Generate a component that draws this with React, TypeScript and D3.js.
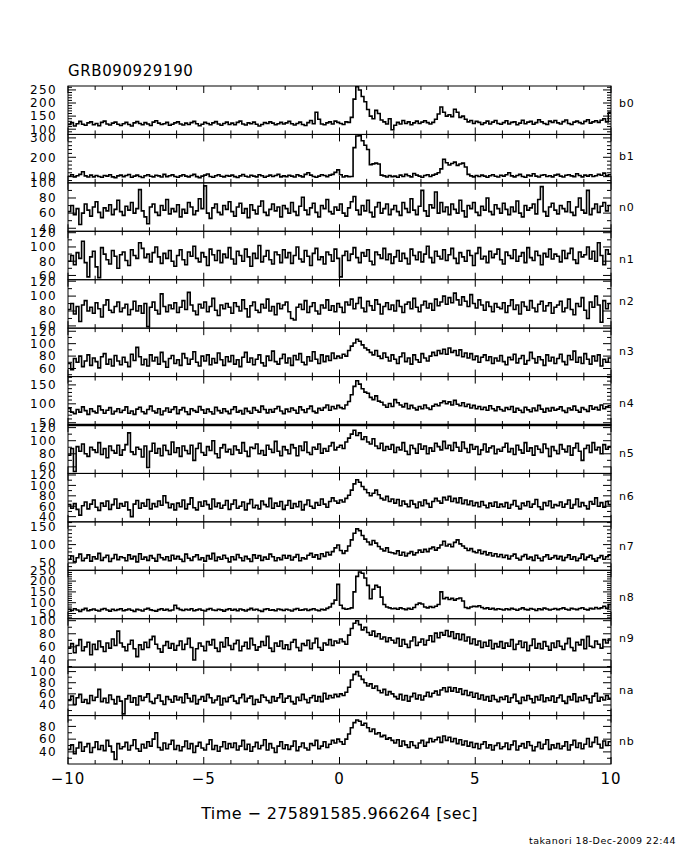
import React from 'react';
import * as d3 from 'd3';

// ---------- data ----------
const title = 'GRB090929190';
const xAxisTitle = 'Time \u2212 275891585.966264 [sec]';
const footer = 'takanori 18-Dec-2009 22:44';
const detectors = ['b0', 'b1', 'n0', 'n1', 'n2', 'n3', 'n4', 'n5', 'n6', 'n7', 'n8', 'n9', 'na', 'nb'];
const timeStart = -10;
const binWidth = 0.1;
const xTicks = [-10, -5, 0, 5, 10];

const yRanges = [
  [80, 265, 50, 10],
  [68, 318, 100, 20],
  [36, 100, 20, 10],
  [54, 122, 20, 10],
  [57, 122, 20, 10],
  [47, 125, 20, 10],
  [44, 172, 50, 10],
  [50, 124, 20, 10],
  [30, 123, 20, 10],
  [30, 162, 50, 10],
  [26, 250, 50, 10],
  [29, 103, 20, 10],
  [21, 108, 20, 10],
  [21, 97, 20, 10],
];

const b0 = [
  118,125,112,121,130,119,115,124,128,117,122,113,126,131,120,116,123,127,119,114,
  121,126,118,112,124,129,122,117,125,120,114,127,132,123,118,121,126,115,119,124,
  128,120,116,123,118,125,130,121,113,119,126,122,117,124,129,120,115,122,127,118,
  123,117,126,131,120,116,124,121,127,119,112,118,125,122,128,123,117,121,126,120,
  124,130,121,116,122,127,118,114,125,133,121,165,138,120,117,124,128,120,131,126,
  122,118,128,126,145,215,262,250,225,205,175,150,140,172,160,135,128,120,140,98,
  115,126,120,133,122,128,117,124,131,122,127,132,125,120,126,138,158,185,165,150,
  155,148,176,165,145,150,138,128,133,122,130,126,118,124,131,120,127,133,122,119,
  125,132,120,126,128,117,123,134,121,127,130,119,125,136,128,122,118,131,126,133,
  124,120,129,135,122,118,127,131,125,121,130,136,123,128,132,126,134,140,128,165,
];
const b1 = [
  102,110,98,105,112,125,104,98,108,99,106,101,97,106,103,110,99,95,104,108,
  100,106,111,97,103,108,101,96,105,110,102,99,107,104,98,112,100,105,109,101,
  97,104,110,103,99,106,112,100,95,103,108,114,101,97,105,110,102,99,106,103,
  108,100,96,104,111,102,98,107,103,99,110,105,97,102,108,101,106,112,99,104,
  100,107,103,98,110,104,99,112,120,108,101,97,103,110,106,100,108,112,122,135,
  110,98,104,100,101,250,310,312,285,262,240,162,166,170,165,108,104,98,106,100,
  103,97,108,101,112,105,99,116,108,103,97,106,110,101,108,113,120,140,190,172,
  160,168,175,158,165,170,150,112,104,99,106,101,108,103,97,105,110,102,98,107,
  103,110,120,104,99,106,112,101,97,108,104,115,103,98,107,110,101,105,99,108,
  112,103,98,107,110,104,100,115,106,99,108,103,110,101,105,112,107,118,104,110,
];
const n0 = [
  62,70,58,66,45,60,72,64,56,68,75,61,54,67,63,71,58,65,77,62,
  57,69,64,74,60,66,91,63,55,46,68,72,61,57,70,64,78,59,66,62,
  71,55,65,60,74,68,58,63,79,66,96,60,53,67,72,61,58,70,65,75,
  62,56,68,73,60,66,54,71,64,59,69,76,61,57,65,72,63,68,55,70,
  66,60,74,62,57,69,81,64,58,67,73,61,55,70,66,78,62,59,68,64,
  72,60,56,67,75,82,64,58,70,63,77,61,55,68,74,60,66,72,58,65,
  70,62,57,74,66,61,79,64,58,69,90,63,56,71,67,88,60,74,62,68,
  58,72,65,60,77,63,55,70,66,74,61,57,69,64,80,62,58,71,66,60,
  73,65,58,68,62,76,60,55,70,64,67,72,59,78,95,62,56,68,73,64,
  59,70,66,62,75,61,57,68,80,64,60,90,58,66,72,61,69,74,63,70,
];
const n1 = [
  80,88,75,92,84,108,78,58,86,94,72,57,99,90,82,76,95,87,70,89,
  93,81,74,96,88,84,106,98,85,90,79,92,100,86,77,91,84,95,80,73,
  88,96,82,75,93,87,101,84,79,92,86,74,97,89,81,95,78,90,85,99,
  83,76,94,88,80,97,86,73,91,84,102,79,87,95,82,76,93,89,78,96,
  85,92,77,88,100,83,79,95,87,74,91,98,82,86,76,93,89,80,97,84,
  58,88,94,81,90,99,85,78,92,87,96,80,75,93,89,84,98,82,90,77,
  86,95,80,91,84,76,97,88,82,93,79,90,101,85,78,94,87,83,96,81,
  89,98,84,77,92,86,80,95,88,74,91,99,83,87,78,94,85,90,97,82,
  76,93,88,84,96,80,87,92,78,99,85,81,94,88,75,91,86,97,83,90,
  87,79,95,84,91,98,82,77,93,86,89,100,83,94,80,106,88,75,96,90,
];
const n2 = [
  82,90,76,86,66,88,94,80,85,77,91,83,72,88,95,81,78,86,92,79,
  84,89,75,82,93,80,87,77,90,59,85,92,81,76,103,86,79,88,83,91,
  78,85,94,82,105,88,80,75,89,84,92,79,86,97,81,74,88,83,90,85,
  77,91,86,80,95,83,72,87,92,81,78,89,84,96,80,86,75,90,83,88,
  92,79,70,68,85,89,82,94,78,86,91,80,76,88,84,95,81,87,79,90,
  85,78,92,88,96,83,90,98,84,79,93,87,81,95,89,76,86,91,82,88,
  80,94,86,78,89,92,83,97,85,79,88,93,84,90,81,96,87,92,100,89,
  98,91,104,95,88,99,93,86,102,90,84,95,88,81,92,86,79,90,85,83,
  91,78,87,95,82,88,76,92,86,81,94,84,79,89,93,80,87,91,77,85,
  88,93,79,84,96,82,75,90,86,98,81,70,92,85,100,88,65,94,83,90,
];
const n3 = [
  68,58,76,70,80,63,72,82,65,77,71,61,79,84,67,75,64,81,72,66,
  78,70,63,83,73,94,79,66,75,64,82,72,78,67,86,71,62,76,81,68,
  74,65,84,77,67,75,87,70,64,80,72,82,66,76,69,85,74,65,79,71,
  81,67,74,63,78,86,70,77,66,75,82,69,64,80,73,88,71,67,76,83,
  69,77,65,81,74,84,70,66,79,72,87,75,68,82,71,80,73,85,76,80,
  77,83,80,89,96,101,107,104,98,93,90,86,82,89,80,76,85,78,72,82,
  75,68,79,85,71,77,67,82,74,70,84,77,72,80,86,81,89,84,91,83,
  93,86,89,81,90,79,85,77,84,74,80,70,78,82,73,79,68,77,72,81,
  71,66,78,74,83,69,76,81,67,73,86,76,69,79,74,65,82,72,78,68,
  76,83,71,66,81,74,88,70,78,68,84,75,67,80,72,82,64,75,70,77,
];
const n4 = [
  88,78,74,85,78,92,82,72,87,80,76,94,84,75,83,90,73,80,87,77,
  83,92,75,81,72,86,91,79,74,85,94,81,76,87,71,81,89,78,85,92,
  74,84,90,79,72,87,82,78,93,84,75,86,79,73,91,82,76,87,80,74,
  85,92,78,82,73,88,80,75,90,83,78,94,85,76,85,78,87,93,81,74,
  86,79,89,83,75,92,84,77,87,94,80,76,88,83,90,97,83,93,87,96,
  90,87,97,106,124,146,161,152,140,131,128,117,111,121,107,104,97,91,101,93,
  111,103,97,92,101,87,96,89,84,93,87,97,89,85,94,99,95,103,107,100,
  105,97,109,99,95,103,93,99,89,96,87,93,85,91,83,95,87,82,92,85,
  81,90,85,93,78,88,83,77,91,84,79,89,82,96,86,78,88,81,90,83,
  86,92,82,77,89,84,94,83,78,90,85,80,95,86,91,84,97,87,92,95,
];
const n5 = [
  78,88,53,91,84,95,80,76,90,86,82,97,79,88,74,92,85,81,93,78,
  86,94,112,83,79,90,87,75,92,59,84,96,81,88,77,93,85,79,98,82,
  89,76,92,85,80,93,70,88,96,82,78,91,85,100,80,74,89,94,83,87,
  79,92,86,81,97,84,76,90,88,95,80,85,78,93,87,82,99,84,77,91,
  86,80,94,89,77,92,85,98,82,79,90,87,95,81,88,84,92,97,86,90,
  93,88,98,104,110,116,108,112,102,106,98,95,103,92,88,96,85,91,87,94,
  82,90,86,97,84,79,93,88,81,95,87,92,80,89,84,96,91,86,99,88,
  93,85,97,90,84,98,88,82,94,87,91,79,86,95,83,89,92,80,87,84,
  90,96,83,88,79,93,86,81,97,84,89,78,92,87,82,95,88,76,91,85,
  80,94,87,83,92,78,89,96,84,70,88,93,82,97,86,90,80,94,87,91,
];
const n6 = [
  63,56,65,54,43,61,68,55,64,72,58,52,66,60,70,54,63,74,56,65,
  60,68,53,40,64,71,56,66,60,73,55,65,59,70,62,80,67,57,64,53,
  66,59,72,55,64,76,57,53,68,60,70,63,55,74,59,66,56,62,71,54,
  64,72,56,60,68,53,65,73,57,62,55,70,63,59,75,56,66,60,69,54,
  62,71,56,65,59,69,53,63,72,60,56,67,62,74,64,58,69,76,70,66,
  72,68,75,81,91,103,111,106,98,92,86,80,85,91,82,75,72,79,69,74,
  66,73,61,70,64,59,71,64,57,68,61,72,65,58,69,75,70,66,77,72,
  79,69,75,67,76,65,72,63,70,61,67,59,69,62,57,66,60,68,58,64,
  59,67,56,63,71,60,55,66,61,69,58,64,73,59,54,67,61,70,57,63,
  61,68,58,64,72,56,63,74,59,67,61,55,69,64,76,60,67,58,69,63,
];
const n7 = [
  60,69,53,64,74,56,63,72,55,67,61,76,57,65,71,54,62,73,59,67,
  64,56,72,61,68,53,75,60,66,57,70,63,55,73,64,59,67,56,71,61,
  68,60,54,74,63,57,67,72,59,64,55,70,61,76,56,66,60,71,63,53,
  67,59,73,64,56,68,61,54,72,63,70,57,66,60,74,67,56,64,59,71,
  63,70,58,66,73,56,64,61,71,76,66,72,61,75,68,79,72,81,91,99,
  84,76,83,96,113,131,143,138,125,115,107,100,111,104,95,88,83,91,79,78,
  75,83,71,79,69,76,81,72,78,85,79,87,81,89,93,85,91,99,109,96,
  101,94,106,113,102,96,90,84,89,81,78,85,75,81,72,78,69,75,67,73,
  65,71,61,69,74,63,58,68,73,61,66,57,71,63,56,67,72,60,64,70,
  61,68,57,65,72,60,67,56,63,74,59,66,71,61,55,64,70,60,67,72,
];
const n8 = [
  70,64,72,66,60,68,74,63,67,71,65,62,69,73,66,61,70,64,68,72,
  63,67,71,65,60,69,66,62,70,74,67,64,61,68,72,65,69,63,66,88,
  74,68,64,70,66,72,63,67,71,65,62,69,73,66,64,70,67,61,68,72,
  65,69,63,71,67,62,68,74,66,70,64,60,69,72,65,67,63,71,68,64,
  70,66,62,69,73,65,67,71,64,68,72,66,63,70,67,74,80,96,112,185,
  88,74,70,72,76,150,222,242,236,214,180,118,162,180,172,126,92,80,76,72,
  74,70,76,72,68,74,70,78,92,98,94,80,76,82,78,84,92,150,118,124,
  115,120,112,118,122,108,78,74,80,84,82,86,78,72,76,70,74,68,72,70,
  66,72,68,74,70,65,71,76,69,67,73,70,64,72,68,75,71,66,70,73,
  68,72,76,70,66,74,71,68,73,77,70,67,74,71,78,72,76,84,74,92,
];
const n9 = [
  58,65,51,62,71,54,60,67,48,64,56,69,60,53,66,58,72,62,84,66,
  60,54,64,70,57,45,63,56,67,59,71,76,64,57,52,62,68,58,65,55,
  62,69,56,64,73,59,40,57,66,61,54,68,63,71,58,53,67,60,74,62,
  56,65,70,54,61,67,57,73,63,55,60,68,62,76,58,53,66,61,69,57,
  63,56,67,71,59,54,65,62,70,57,66,73,59,55,66,63,71,62,69,66,
  72,68,64,78,88,96,100,94,86,90,82,78,84,76,80,72,75,68,74,70,
  66,73,61,71,64,59,69,75,62,67,72,63,70,77,68,81,74,82,78,85,
  76,83,73,80,71,79,69,75,65,72,63,69,59,67,61,70,57,65,60,68,
  58,66,61,71,56,64,69,59,67,54,62,72,58,65,57,68,61,55,66,59,
  69,61,56,65,73,59,54,67,63,71,57,76,61,59,69,64,58,71,66,72,
];
const na = [
  48,56,41,53,59,45,50,43,57,48,54,68,46,52,44,58,50,42,55,47,
  24,51,57,45,53,40,56,48,54,60,46,43,52,58,47,41,55,50,45,56,
  49,54,44,60,52,46,57,42,50,55,47,59,53,44,49,56,40,52,46,54,
  57,47,43,53,59,46,52,56,41,50,45,58,54,48,44,55,47,53,60,45,
  52,56,46,42,54,48,59,50,44,53,57,47,55,46,61,51,57,53,59,55,
  60,57,63,72,85,95,100,92,86,80,74,78,70,74,66,62,68,58,64,60,
  55,51,59,49,57,47,55,61,51,58,49,56,63,55,61,65,58,67,71,64,
  72,65,71,63,69,59,66,57,63,54,61,51,58,49,55,47,57,50,46,54,
  50,56,45,53,59,47,43,54,48,57,51,44,55,49,58,46,53,48,56,45,
  53,58,47,43,55,49,60,46,54,48,57,51,44,56,61,47,54,49,57,52,
];
const nb = [
  44,51,37,46,55,41,48,53,39,47,56,44,50,42,58,49,40,28,53,45,
  48,55,43,50,59,45,41,52,46,56,49,60,70,47,43,54,45,52,58,44,
  50,42,48,57,45,53,39,49,55,46,43,52,59,44,50,41,48,56,45,53,
  47,54,43,49,58,44,52,41,48,55,45,50,59,43,53,46,39,49,56,45,
  51,44,49,57,42,48,54,46,43,53,50,58,45,49,56,47,52,58,54,60,
  56,52,60,68,78,86,90,88,82,85,78,72,76,68,70,64,66,60,62,58,
  54,59,49,57,51,47,56,50,46,54,58,49,55,61,56,59,63,55,65,58,
  63,56,61,53,59,51,57,49,55,47,53,45,52,56,46,51,43,50,54,45,
  48,54,44,51,57,43,49,53,46,56,50,42,48,55,45,52,59,44,51,46,
  53,45,49,56,43,51,58,47,54,45,52,61,48,55,63,52,46,57,50,56,
];
const seriesCounts = [b0, b1, n0, n1, n2, n3, n4, n5, n6, n7, n8, n9, na, nb];

// ---------- layout ----------
const W = 680;
const H = 850;
const LEFT = 68;
const RIGHT = 611;
const TOP = 86;
const BOTTOM = 764;
const labelOffsets = [17, 22, 24, 28, 21, 23, 26, 28, 23, 24, 27, 19, 23, 25];
const FONT = 'DejaVu Sans, Verdana, sans-serif';

export default function App() {
  const x = d3.scaleLinear().domain([-10, 10]).range([LEFT, RIGHT]);
  const ph = (BOTTOM - TOP) / detectors.length;
  const secTicks = d3.range(-10, 10.001, 1);

  return (
    <svg
      width={W}
      height={H}
      viewBox={`0 0 ${W} ${H}`}
      style={{ position: 'absolute', left: 0, top: 0, background: '#fff' }}
      fontFamily={FONT}
    >
      <rect x={0} y={0} width={W} height={H} fill="#fff" />
      <defs>
        {detectors.map((d, i) => (
          <clipPath id={`clip-${d}`} key={d}>
            <rect x={LEFT} y={TOP + i * ph} width={RIGHT - LEFT} height={ph} />
          </clipPath>
        ))}
      </defs>
      <text x={68} y={76} fontSize={15} letterSpacing={0.6} fill="#000">
        {title}
      </text>
      {detectors.map((name, i) => {
        const top = TOP + i * ph;
        const bot = top + ph;
        const [ymin, ymax, major, minor] = yRanges[i];
        const y = d3.scaleLinear().domain([ymin, ymax]).range([bot, top]);
        const counts = seriesCounts[i];
        const pts = [...counts, counts[counts.length - 1]];
        const line = d3
          .line<number>()
          .x((_, j) => x(timeStart + j * binWidth))
          .y((d) => y(d))
          .curve(d3.curveStepAfter);
        const minorVals = d3
          .range(Math.ceil(ymin / minor) * minor, ymax + 0.001, minor)
          .filter((v) => v > ymin && v < ymax);
        const majorVals = d3
          .range(Math.ceil(ymin / major) * major, ymax + 0.001, major)
          .filter((v) => v >= ymin && v <= ymax);
        return (
          <g key={name}>
            <path
              d={line(pts) || ''}
              fill="none"
              stroke="#000"
              strokeWidth={1.6}
              clipPath={`url(#clip-${name})`}
            />
            <rect
              x={LEFT}
              y={top}
              width={RIGHT - LEFT}
              height={ph}
              fill="none"
              stroke="#000"
              strokeWidth={1}
            />
            {secTicks.map((t) => {
              const len = t % 5 === 0 ? 7 : 4;
              const xx = x(t);
              return (
                <g key={`xt${t}`}>
                  <line x1={xx} x2={xx} y1={top} y2={top + len} stroke="#000" strokeWidth={1} />
                  <line x1={xx} x2={xx} y1={bot} y2={bot - len} stroke="#000" strokeWidth={1} />
                </g>
              );
            })}
            {minorVals.map((v) => {
              const isMajor = Math.abs(v / major - Math.round(v / major)) < 1e-6;
              const len = isMajor ? 8 : 4;
              const yy = y(v);
              return (
                <g key={`yt${v}`}>
                  <line x1={LEFT} x2={LEFT + len} y1={yy} y2={yy} stroke="#000" strokeWidth={1} />
                  <line x1={RIGHT} x2={RIGHT - len} y1={yy} y2={yy} stroke="#000" strokeWidth={1} />
                </g>
              );
            })}
            {majorVals.map((v) => (
              <text
                key={`yl${v}`}
                x={57}
                y={y(v)}
                dy="0.36em"
                textAnchor="end"
                fontSize={12}
                letterSpacing={1.4}
                fill="#000"
              >
                {v}
              </text>
            ))}
            <text x={619} y={top + labelOffsets[i]} dy="0.36em" fontSize={11} letterSpacing={0.8} fill="#000">
              {name}
            </text>
          </g>
        );
      })}
      <line x1={LEFT} x2={RIGHT} y1={TOP + 7 * ph} y2={TOP + 7 * ph} stroke="#000" strokeWidth={2.5} />
      {xTicks.map((t) => (
        <text key={`xl${t}`} x={x(t)} y={779} dy="0.36em" textAnchor="middle" fontSize={15} letterSpacing={1} fill="#000">
          {t < 0 ? `\u2212${Math.abs(t)}` : `${t}`}
        </text>
      ))}
      <text x={(LEFT + RIGHT) / 2} y={813} dy="0.36em" textAnchor="middle" fontSize={16} letterSpacing={0.4} fill="#000">
        {xAxisTitle}
      </text>
      <text x={676} y={841} dy="0.36em" textAnchor="end" fontSize={9.5} letterSpacing={0.5} fill="#000">
        {footer}
      </text>
    </svg>
  );
}
